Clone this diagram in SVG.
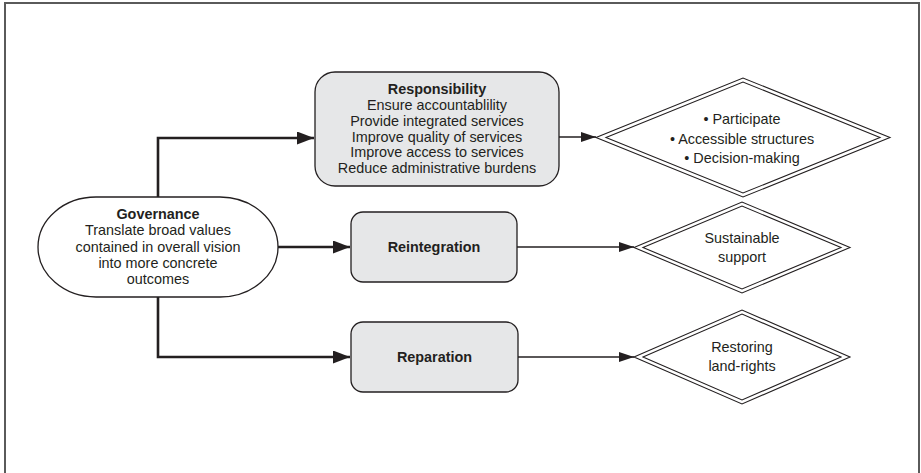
<svg xmlns="http://www.w3.org/2000/svg" width="921" height="473" viewBox="0 0 921 473">
  <defs>
    <style>
      .frame { fill: #ffffff; stroke: #5a5a5a; stroke-width: 2; }
      .box { fill: #e6e7e8; stroke: #231f20; stroke-width: 1.3; }
      .oval { fill: #ffffff; stroke: #231f20; stroke-width: 1.3; }
      .dia { fill: #ffffff; stroke: #231f20; stroke-width: 1.1; }
      .thick { fill: none; stroke: #231f20; stroke-width: 2.6; }
      .thin { fill: none; stroke: #231f20; stroke-width: 1.6; }
      text { font-family: "Liberation Sans", Arial, Helvetica, sans-serif; font-size: 14.4px; fill: #231f20; text-anchor: middle; }
      .b { font-weight: bold; }
    </style>
    <marker id="arrowBig" markerUnits="userSpaceOnUse" markerWidth="18" markerHeight="14" refX="17" refY="6.5" orient="auto">
      <path d="M0,0 L17,6.5 L0,13 Z" fill="#231f20"/>
    </marker>
    <marker id="arrowSmall" markerUnits="userSpaceOnUse" markerWidth="16" markerHeight="12" refX="15" refY="5" orient="auto">
      <path d="M0,0 L15,5 L0,10 Z" fill="#231f20"/>
    </marker>
  </defs>

  <!-- outer frame -->
  <rect class="frame" x="5" y="3" width="914" height="476"/>

  <!-- connectors -->
  <g id="connectors">
    <path class="thick" d="M158,197 V138 H314" marker-end="url(#arrowBig)"/>
    <path class="thick" d="M278,247 H350" marker-end="url(#arrowBig)"/>
    <path class="thick" d="M158,297 V357 H350" marker-end="url(#arrowBig)"/>
    <path class="thin" d="M559,137 H596" marker-end="url(#arrowSmall)"/>
    <path class="thin" d="M517,247 H634" marker-end="url(#arrowSmall)"/>
    <path class="thin" d="M518,357 H634" marker-end="url(#arrowSmall)"/>
  </g>

  <!-- Governance -->
  <g id="governance">
    <rect class="oval" x="38" y="197" width="240" height="100" rx="58" ry="50"/>
    <text class="b" x="158" y="219">Governance</text>
    <text x="158" y="235">Translate broad values</text>
    <text x="158" y="251.5">contained in overall vision</text>
    <text x="158" y="267.5">into more concrete</text>
    <text x="158" y="283.5">outcomes</text>
  </g>

  <!-- Responsibility -->
  <g id="responsibility">
    <rect class="box" x="315" y="72" width="244" height="114" rx="20" ry="20"/>
    <text class="b" x="437" y="94">Responsibility</text>
    <text x="437" y="109.5">Ensure accountablility</text>
    <text x="437" y="125.5">Provide integrated services</text>
    <text x="437" y="141.5">Improve quality of services</text>
    <text x="437" y="157">Improve access to services</text>
    <text x="437" y="173">Reduce administrative burdens</text>
  </g>

  <!-- Reintegration -->
  <g id="reintegration">
    <rect class="box" x="351" y="212" width="166" height="70" rx="12" ry="12"/>
    <text class="b" x="434" y="252">Reintegration</text>
  </g>

  <!-- Reparation -->
  <g id="reparation">
    <rect class="box" x="351" y="322" width="167" height="70" rx="12" ry="12"/>
    <text class="b" x="434.5" y="362">Reparation</text>
  </g>

  <!-- Outcome: participation -->
  <g id="participation">
    <polygon class="dia" points="596,137.5 743,78 890,137.5 743,197"/>
    <polygon class="dia" points="606,137.5 743,82 880,137.5 743,193"/>
    <text x="742" y="124">• Participate</text>
    <text x="742" y="143.5">• Accessible structures</text>
    <text x="742" y="163">• Decision-making</text>
  </g>

  <!-- Outcome: sustainable support -->
  <g id="sustainable">
    <polygon class="dia" points="634,247.5 742,202 850,247.5 742,293"/>
    <polygon class="dia" points="643,247.5 742,206 841,247.5 742,289"/>
    <text x="742" y="243">Sustainable</text>
    <text x="742" y="262">support</text>
  </g>

  <!-- Outcome: land rights -->
  <g id="landrights">
    <polygon class="dia" points="634,357 742,310 850,357 742,404"/>
    <polygon class="dia" points="643,357 742,314 841,357 742,400"/>
    <text x="742" y="352">Restoring</text>
    <text x="742" y="371">land-rights</text>
  </g>
</svg>
